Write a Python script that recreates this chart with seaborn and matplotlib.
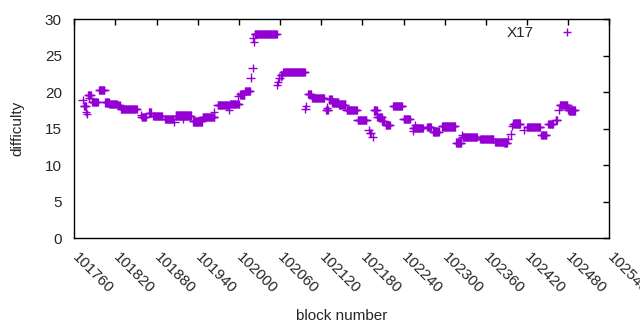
import matplotlib
matplotlib.use("Agg")
import matplotlib.pyplot as plt
import numpy as np
import pandas as pd
import seaborn as sns

# ──────────────────────────────────────────────────────────────
# Data: runs of consecutive blocks sharing one difficulty value
# ──────────────────────────────────────────────────────────────

run_start = [
    101772, 101774, 101777, 101779, 101780, 101782, 101786, 101796, 101805, 101811,
    101824, 101828, 101857, 101858, 101869, 101875, 101892, 101906, 101908, 101919,
    101933, 101947, 101964, 101969, 101986, 101987, 101999, 102002, 102009, 102017,
    102020, 102021, 102022, 102023, 102056, 102057, 102059, 102061, 102065, 102097,
    102098, 102101, 102107, 102127, 102128, 102132, 102136, 102146, 102157, 102173,
    102189, 102191, 102195, 102197, 102202, 102209, 102214, 102225, 102240, 102254,
    102254, 102257, 102274, 102283, 102296, 102317, 102325, 102326, 102352, 102374,
    102387, 102392, 102396, 102398, 102400, 102415, 102420, 102441, 102451, 102462,
    102466, 102468, 102480, 102481,
]
run_end = [
    101772, 101777, 101777, 101779, 101784, 101782, 101794, 101804, 101810, 101822,
    101826, 101851, 101857, 101864, 101872, 101888, 101904, 101906, 101930, 101919,
    101946, 101964, 101964, 101985, 101986, 102000, 101999, 102008, 102016, 102017,
    102020, 102021, 102022, 102055, 102056, 102057, 102059, 102063, 102096, 102097,
    102098, 102105, 102124, 102130, 102128, 102135, 102145, 102155, 102172, 102186,
    102189, 102192, 102195, 102201, 102208, 102212, 102220, 102238, 102249, 102268,
    102254, 102257, 102280, 102291, 102315, 102324, 102325, 102347, 102371, 102386,
    102391, 102392, 102396, 102398, 102410, 102415, 102439, 102448, 102458, 102464,
    102466, 102479, 102480, 102490,
]
run_diff = [
    18.9, 18.1, 17.3, 17.0, 19.6, 19.2, 18.7, 20.3, 18.6, 18.4,
    18.2, 17.65, 16.9, 16.6, 17.2, 16.7, 16.3, 15.9, 16.8, 16.3,
    16.0, 16.6, 17.3, 18.2, 17.6, 18.4, 19.5, 19.7, 20.2, 22.0,
    23.3, 27.5, 26.9, 28.0, 21.0, 21.4, 22.0, 22.3, 22.8, 17.7,
    18.1, 19.75, 19.2, 17.6, 17.9, 19.0, 18.6, 18.3, 17.6, 16.2,
    14.8, 14.4, 13.9, 17.5, 16.6, 16.1, 15.5, 18.1, 16.3, 15.1,
    14.7, 15.5, 15.25, 14.6, 15.3, 13.1, 14.1, 13.9, 13.6, 13.2,
    13.1, 13.6, 14.2, 15.4, 15.7, 14.8, 15.2, 14.1, 15.6, 16.2,
    17.6, 18.2, 17.6, 17.5,
]

x_ticks = list(range(101760, 102541, 60))
y_ticks = [0, 5, 10, 15, 20, 25, 30]
series_name = "X17"

blocks = np.concatenate([np.arange(s, e + 1) for s, e in zip(run_start, run_end)])
values = np.concatenate(
    [np.full(e - s + 1, d) for s, e, d in zip(run_start, run_end, run_diff)]
)
df = pd.DataFrame({"block": blocks, "difficulty": values, "series": series_name})

# ──────────────────────────────────────────────────────────────
# Style
# ──────────────────────────────────────────────────────────────

sns.set_style("white")
plt.rcParams["font.family"] = ["Liberation Sans", "DejaVu Sans"]
plt.rcParams["font.size"] = 11

fig = plt.figure(figsize=(6.4, 3.3), dpi=100)
ax = fig.add_axes([74.3 / 640, 92 / 330, 535 / 640, 218.7 / 330])

sns.scatterplot(
    data=df,
    x="block",
    y="difficulty",
    hue="series",
    palette=["#9400d3"],
    marker="+",
    s=36,
    linewidth=1.0,
    ax=ax,
)

ax.set_xlim(101760, 102540)
ax.set_ylim(0, 30)
ax.set_xticks(x_ticks)
ax.set_yticks(y_ticks)
ax.set_xticklabels([str(t) for t in x_ticks], rotation=-45, ha="left",
                   va="center", rotation_mode="anchor")

ax.tick_params(direction="in", length=4.5, width=1, color="black",
               top=True, right=True, labelsize=11)
ax.tick_params(axis="x", pad=12.5)
ax.tick_params(axis="y", pad=9)
for spine in ax.spines.values():
    spine.set_color("black")
    spine.set_linewidth(1)

ax.set_xlabel("block number", fontsize=11)
ax.set_ylabel("difficulty", fontsize=11)
ax.xaxis.set_label_coords(0.5, -0.325)
ax.yaxis.set_label_coords(-0.094, 0.5)

ax.legend(
    loc="upper right",
    bbox_to_anchor=(0.964, 0.969),
    markerfirst=False,
    frameon=False,
    handlelength=3,
    handletextpad=0.72,
    borderaxespad=0,
    borderpad=0,
    fontsize=11,
)

fig.savefig("out.png", dpi=100)
